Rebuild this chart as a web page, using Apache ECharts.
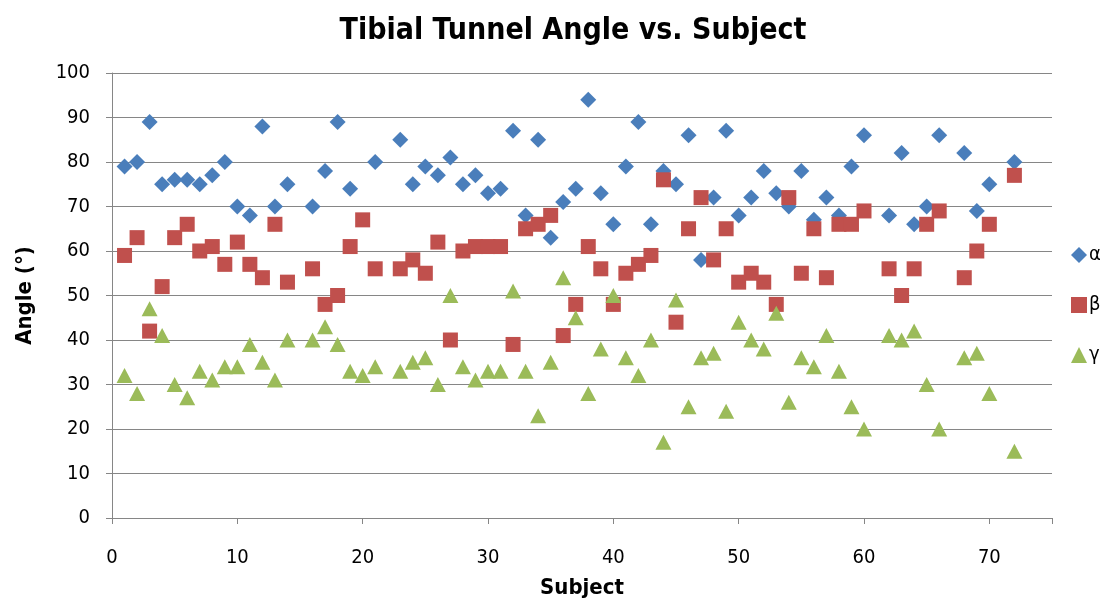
<!DOCTYPE html>
<html><head><meta charset="utf-8">
<script src="https://cdn.jsdelivr.net/npm/echarts@6/dist/echarts.min.js"></script>
<style>html,body{margin:0;padding:0;background:#fff}#c{width:1107px;height:601px}</style>
</head><body><div id="c"></div>
<script>
// Subjects 1..72 ; null = no measurement
const subjects = Array.from({length:72},(_,i)=>i+1);
const alpha = [79,80,89,75,76,76,75,77,80,70, 68,88,70,75,null,70,78,89,74,null,
               80,null,85,75,79,77,81,75,77,73, 74,87,68,85,63,71,74,94,73,66,
               79,89,66,78,75,86,58,72,87,68, 72,78,73,70,78,67,72,68,79,86,
               null,68,82,66,70,86,null,82,69,75, null,80];
const beta  = [59,63,42,52,63,66,60,61,57,62, 57,54,66,53,null,56,48,50,61,67,
               56,null,56,58,55,62,40,60,61,61, 61,39,65,66,68,41,48,61,56,48,
               55,57,59,76,44,65,72,58,65,53, 55,53,48,72,55,65,54,66,66,69,
               null,56,50,56,66,69,null,54,60,66, null,77];
const gamma = [32,28,47,41,30,27,33,31,34,34, 39,35,31,40,null,40,43,39,33,32,
               34,null,33,35,36,30,50,34,31,33, 33,51,33,23,35,54,45,28,38,50,
               36,32,40,17,49,25,36,37,24,44, 40,38,46,26,36,34,41,33,25,20,
               null,41,40,42,30,20,null,36,37,28, null,15];
const xTicks = [0,10,20,30,40,50,60,70];
const yTicks = [0,10,20,30,40,50,60,70,80,90,100];

const pts = arr => subjects.map((s,i)=>[s,arr[i]]).filter(p=>p[1]!==null);
const FONT = "'Liberation Sans Narrow','DejaVu Sans Condensed','Noto Sans',sans-serif";
const chart = echarts.init(document.getElementById('c'),null,{renderer:'canvas'});
chart.setOption({
  animation:false,
  backgroundColor:'#ffffff',
  title:{text:'Tibial Tunnel Angle vs. Subject',left:568,top:11,textAlign:'center',
    textStyle:{fontFamily:FONT,fontWeight:'bold',fontSize:30,color:'#000'}},
  grid:{left:112,right:55,top:73,bottom:83,containLabel:false,outerBoundsMode:'none'},
  legend:{orient:'vertical',left:1066,top:240,itemGap:30,itemWidth:16,itemHeight:16,
    textStyle:{fontFamily:FONT,fontSize:20,color:'#000',padding:[0,0,0,-3]},
    data:['α','β','γ']},
  xAxis:{type:'value',min:0,max:75,interval:10,
    name:'Subject',nameLocation:'middle',nameGap:59,
    nameTextStyle:{fontFamily:FONT,fontWeight:'bold',fontSize:22,color:'#000'},
    axisLine:{show:true,onZero:false,lineStyle:{color:'#868686',width:1}},
    axisTick:{show:true,length:6,lineStyle:{color:'#868686'}},
    axisLabel:{fontFamily:FONT,fontSize:20,color:'#000',margin:30,
      formatter:v=>xTicks.includes(v)?String(v):''},
    splitLine:{show:false}},
  yAxis:{type:'value',min:0,max:100,interval:10,
    name:'Angle (°)',nameLocation:'middle',nameGap:76,nameRotate:90,
    nameTextStyle:{fontFamily:FONT,fontWeight:'bold',fontSize:22,color:'#000'},
    axisLine:{show:true,lineStyle:{color:'#868686',width:1}},
    axisTick:{show:true,length:6,lineStyle:{color:'#868686'}},
    axisLabel:{fontFamily:FONT,fontSize:20,color:'#000',margin:22,
      formatter:v=>yTicks.includes(v)?String(v):''},
    splitLine:{show:true,lineStyle:{color:'#868686',width:1}}},
  series:[
    {name:'α',type:'scatter',symbol:'diamond',symbolSize:[16,16],
      itemStyle:{color:'#4A7EBB',opacity:1},data:pts(alpha)},
    {name:'β',type:'scatter',symbol:'rect',symbolSize:[15,15],
      itemStyle:{color:'#C0504D',opacity:1},data:pts(beta)},
    {name:'γ',type:'scatter',symbol:'triangle',symbolSize:[16,15],
      itemStyle:{color:'#9BBB59',opacity:1},data:pts(gamma)}
  ]
});
</script></body></html>
